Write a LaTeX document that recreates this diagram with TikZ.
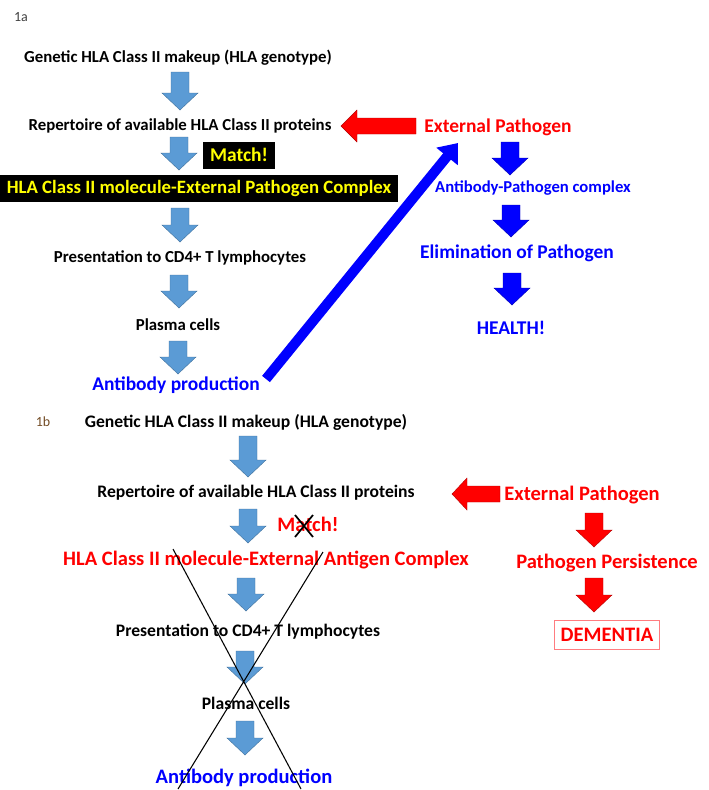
\documentclass[tikz,border=0pt]{standalone}
\usepackage{fontspec}
\setmainfont{Carlito}
\usetikzlibrary{arrows.meta}
\definecolor{lblue}{HTML}{5B9BD5}
\definecolor{lblueline}{HTML}{41719C}
\definecolor{pblue}{HTML}{0000FF}
\definecolor{pred}{HTML}{FF0000}
\definecolor{myyellow}{HTML}{FFFF00}
\definecolor{lred}{HTML}{FF7C80}
\newcommand\blkdown[5]{% fill, x, ytop, ybot, line
  \draw[fill=#1,draw=#5,line width=0.3pt]
    ({#2-9},{#3}) -- ({#2+9},{#3}) -- ({#2+9},{#4-17}) -- ({#2+18},{#4-17})
    -- ({#2},{#4}) -- ({#2-18},{#4-17}) -- ({#2-9},{#4-17}) -- cycle;}
\newcommand\blkleft[6]{% fill, xtip, xheadbase, xtail, y, line
  \draw[fill=#1,draw=#6,line width=0.3pt]
    ({#4},{#5-8}) -- ({#3},{#5-8}) -- ({#3},{#5-16}) -- ({#2},{#5})
    -- ({#3},{#5+16}) -- ({#3},{#5+8}) -- ({#4},{#5+8}) -- cycle;}
\begin{document}
\begin{tikzpicture}[x=0.75pt,y=-0.75pt,
  blk/.style={font=\fontsize{12.6}{14}\selectfont\bfseries, text=black, inner sep=0pt},
  blkb/.style={font=\fontsize{13.2}{15}\selectfont\bfseries, text=black, inner sep=0pt},
  big/.style={font=\fontsize{14.6}{16}\selectfont\bfseries, inner sep=0pt},
  bigb/.style={font=\fontsize{15.4}{17}\selectfont\bfseries, inner sep=0pt},
  lbl/.style={font=\fontsize{10.5}{12}\selectfont, text=black!75, inner sep=0pt}]
\useasboundingbox (0,0) rectangle (708,790);
% ---------- 1a ----------
\node[lbl] (l1a) at (21,17) {1a};
\node[blk] (a1) at (178,58) {Genetic HLA Class II makeup (HLA genotype)};
\blkdown{lblue}{180}{72}{110}{lblueline}
\node[blk] (a2) at (180,126) {Repertoire of available HLA Class II proteins};
\blkdown{lblue}{179}{137}{170}{lblueline}
\node[big, fill=black, text=myyellow, minimum width=72*0.75pt, minimum height=27*0.75pt] (m1) at (239,155) {Match!};
\node[big, font=\fontsize{14.1}{16}\selectfont\bfseries, fill=black, text=myyellow, minimum width=398*0.75pt, minimum height=27*0.75pt] (a3) at (199,188) {HLA Class II molecule-External Pathogen Complex};
\blkdown{lblue}{180}{208}{242}{lblueline}
\node[blk] (a4) at (180,258) {Presentation to CD4+ T lymphocytes};
\blkdown{lblue}{179}{275}{308}{lblueline}
\node[blk] (a5) at (178,325) {Plasma cells};
\blkdown{lblue}{178}{341}{374}{lblueline}
\node[big, text=pblue] (a6) at (176,385) {Antibody production};
\node[big, text=pred] (e1) at (498,127) {External Pathogen};
\blkleft{pred}{341}{357}{416}{126}{pred!70!black}
\coordinate (btail) at (266,379);
\coordinate (bhead) at (458,143);
\draw[line width=10*0.75pt, pblue, -{Triangle[length=13pt,width=20pt]}] (btail) -- (bhead);
\blkdown{pblue}{510}{142}{175}{pblue!70!black}
\node[blk, font=\fontsize{12.5}{14}\selectfont\bfseries, text=pblue] (r1) at (533,188) {Antibody-Pathogen complex};
\blkdown{pblue}{511}{205}{237}{pblue!70!black}
\node[big, text=pblue] (r2) at (517,253) {Elimination of Pathogen};
\blkdown{pblue}{512}{273}{305}{pblue!70!black}
\node[big, text=pblue] (r3) at (511,328) {HEALTH!};
% ---------- 1b ----------
\node[lbl, text=brown!60!black] (l1b) at (43,422) {1b};
\node[blkb] (b1) at (246,422) {Genetic HLA Class II makeup (HLA genotype)};
\blkdown{lblue}{248}{436}{477}{lblueline}
\node[blkb] (b2) at (256,493) {Repertoire of available HLA Class II proteins};
\blkdown{lblue}{248}{509}{543}{lblueline}
\node[bigb, text=pred] (m2) at (308,524) {Match!};
\coordinate (xa) at (295,515);
\coordinate (xb) at (313,537);
\coordinate (xc) at (313,515);
\coordinate (xd) at (295,537);
\draw[line width=1.3pt] (xa) -- (xb) (xc) -- (xd);
\node[bigb, text=pred] (b3) at (266,560) {HLA Class II molecule-External Antigen Complex};
\blkdown{lblue}{246}{578}{611}{lblueline}
\node[blkb] (b4) at (248,632) {Presentation to CD4+ T lymphocytes};
\blkdown{lblue}{245}{651}{684}{lblueline}
\node[blkb] (b5) at (246,703) {Plasma cells};
\blkdown{lblue}{245}{721}{755}{lblueline}
\node[bigb, text=pblue] (b6) at (244,778) {Antibody production};
\coordinate (c1) at (173,549);
\coordinate (c2) at (301,789);
\coordinate (c3) at (323,552);
\coordinate (c4) at (178,789);
\draw[line width=0.8pt] (c1) -- (c2) (c3) -- (c4);
\node[bigb, text=pred] (e2) at (582,495) {External Pathogen};
\blkleft{pred}{452}{467}{500}{494}{pred!70!black}
\blkdown{pred}{594}{513}{547}{pred!70!black}
\node[bigb, text=pred] (p1) at (607,563) {Pathogen Persistence};
\blkdown{pred}{594}{578}{612}{pred!70!black}
\node[bigb, text=pred, draw=lred, line width=0.6pt, minimum width=105*0.75pt, minimum height=29*0.75pt] (d1) at (607,635) {DEMENTIA};
\end{tikzpicture}
\end{document}
